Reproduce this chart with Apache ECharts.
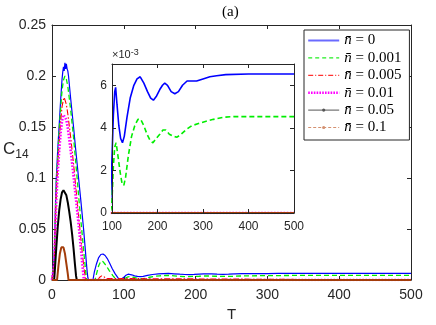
<!DOCTYPE html>
<html><head><meta charset="utf-8">
<script src="https://cdn.jsdelivr.net/npm/echarts@6/dist/echarts.min.js"></script>
<style>html,body{margin:0;padding:0;background:#fff}#c{width:436px;height:325px}</style>
</head><body><div id="c"></div>
<script>
// ---- data (T, C14) ----
const seriesNames = ['n̄ = 0', 'n̄ = 0.001', 'n̄ = 0.005', 'n̄ = 0.01', 'n̄ = 0.05', 'n̄ = 0.1'];
const xTicks = [0, 100, 200, 300, 400, 500];
const yTicks = [0, 0.05, 0.1, 0.15, 0.2, 0.25];
const insetYTicks = [0, 2, 4, 6];

const nbar0 = [[0,0],[2,0],[3,0.022],[4,0.048],[5,0.078],[6,0.1],[8,0.128],[10,0.152],[12,0.176],[14,0.197],[15,0.204],[16,0.209],[17,0.205],[18,0.213],[19,0.207],[20,0.212],[21,0.207],[22,0.205],[23,0.2],[26,0.178],[30,0.15],[33,0.128],[37,0.1],[40,0.079],[44,0.05],[46,0.033],[48,0.016],[49,0.008],[50,0.002],[51,0],[57,0],[59,0.008],[62,0.016],[65,0.022],[68,0.025],[71,0.0255],[74,0.024],[77,0.021],[80,0.017],[84,0.011],[88,0.006],[92,0.002],[95,0],[97,0.0006],[100,0.0026],[103,0.0046],[106,0.0057],[108,0.0059],[111,0.0051],[115,0.0041],[119,0.0035],[123,0.0033],[127,0.0036],[133,0.0045],[140,0.0054],[148,0.006],[155,0.0063],[162,0.0064],[170,0.0061],[178,0.0057],[185,0.0054],[191,0.0053],[198,0.0055],[205,0.0058],[211,0.006],[216,0.0061],[222,0.006],[230,0.0057],[238,0.0056],[246,0.0057],[255,0.006],[265,0.0062],[275,0.0062],[286,0.0062],[300,0.0063],[315,0.0064],[330,0.00645],[350,0.0065],[400,0.00653],[450,0.00653],[500,0.00653]];
const nbar001 = [[0,0],[2,0],[3,0.018],[4,0.042],[5,0.07],[6,0.094],[8,0.122],[10,0.146],[12,0.168],[14,0.186],[16,0.196],[18,0.2],[19,0.2],[20,0.197],[22,0.19],[26,0.167],[30,0.14],[34,0.108],[38,0.075],[42,0.045],[45,0.022],[47,0.008],[48,0],[60,0],[62,0.006],[65,0.014],[68,0.0185],[71,0.018],[75,0.0145],[80,0.009],[85,0.004],[89,0.0008],[91,0],[96,0],[98,0.0002],[100,0.0006],[103,0.0022],[106,0.0031],[109,0.0033],[113,0.0027],[118,0.0019],[122,0.0014],[126,0.0013],[130,0.0017],[136,0.0027],[143,0.0036],[150,0.0041],[157,0.0044],[163,0.0044],[170,0.0041],[177,0.0037],[184,0.0034],[190,0.0033],[197,0.0035],[205,0.0037],[212,0.0039],[218,0.0039],[226,0.0037],[235,0.0036],[243,0.00356],[252,0.0037],[262,0.0039],[275,0.0041],[290,0.0042],[305,0.0043],[323,0.0044],[345,0.0045],[367,0.00453],[400,0.00453],[500,0.00453]];
const nbar005 = [[0,0],[2,0],[3,0.015],[4,0.037],[5,0.062],[6,0.085],[8,0.112],[10,0.135],[12,0.155],[14,0.17],[16,0.177],[17,0.179],[18,0.178],[20,0.172],[22,0.163],[26,0.14],[30,0.114],[34,0.085],[38,0.056],[42,0.028],[44,0.015],[46,0.004],[47,0],[64,0],[66,0.0025],[69,0.004],[72,0.0035],[75,0.0015],[77,0],[500,0]];
const nbar01 = [[0,0],[1.5,0],[3,0.015],[4,0.035],[5,0.058],[6,0.078],[8,0.105],[10,0.126],[12,0.144],[14,0.156],[16,0.162],[17,0.163],[18,0.162],[20,0.157],[22,0.149],[26,0.127],[30,0.102],[34,0.075],[38,0.048],[41,0.025],[43,0.01],[44.5,0],[500,0]];
const nbar05 = [[0,0],[3,0],[4,0.01],[6,0.032],[8,0.052],[10,0.068],[12,0.079],[14,0.086],[16,0.088],[17,0.088],[18,0.087],[20,0.083],[22,0.076],[24,0.067],[26,0.057],[28,0.045],[30,0.031],[32,0.015],[33.5,0.004],[34.5,0],[500,0]];
const nbar1 = [[0,0],[7,0],[9,0.014],[11,0.026],[13,0.032],[14.5,0.0335],[16,0.032],[18,0.026],[20,0.016],[22,0.006],[23,0],[500,0]];

const allData = [nbar0, nbar001, nbar005, nbar01, nbar05, nbar1];
const colors = ['#0000ff', '#00ee00', '#ff0000', '#ff00ff', '#000000', '#a33d0a'];
const lineTypes = ['solid', [5,3], [6,2,1.5,2], [1.6,1.6], 'solid', 'solid'];
const lineWidths = [1.2, 1.3, 1.1, 2.6, 2, 2];
const legendTypes = ['solid', [4,3], [5,2,1,2], [1.6,1.2], 'solid', [3,2]];
const legendWidths = [2, 1.2, 1.2, 2.4, 1, 1];
const legendColors = ['#6a6aff', '#22ee22', '#ff3030', '#ff00ff', '#555555', '#d49070'];

const axCol = '#262626';
const font = 'Liberation Sans, Arial, sans-serif';

function mkX(grid, pos, min, show, fs) {
  return {type:'value', gridIndex:grid, position:pos, min:min, max:500, interval:100,
    axisLine:{show:true, onZero:false, lineStyle:{color:axCol, width:1}},
    axisTick:{show:true, inside:true, length:4, lineStyle:{color:axCol}},
    axisLabel:{show:show, color:axCol, fontSize:fs, fontFamily:font, margin:8},
    splitLine:{show:false}};
}
function mkY(grid, pos, max, interval, show, fs, fmt, margin, showMax) {
  return {type:'value', gridIndex:grid, position:pos, min:0, max:max, interval:interval,
    axisLine:{show:true, onZero:false, lineStyle:{color:axCol, width:1}},
    axisTick:{show:true, inside:true, length:4, lineStyle:{color:axCol}},
    axisLabel:{show:show, color:axCol, fontSize:fs, fontFamily:font, margin:margin, formatter:fmt, showMaxLabel:showMax},
    splitLine:{show:false}};
}

const series = [];
allData.forEach((d, i) => {
  const base = {type:'line', data:d, symbol:(i>=4?'circle':'none'), symbolSize:3, showSymbol:false,
    animation:false, lineStyle:{color:colors[i], type:lineTypes[i], width:lineWidths[i]},
    itemStyle:{color:colors[i]}, z:2+i, clip:true};
  series.push(Object.assign({}, base, {name:seriesNames[i], xAxisIndex:0, yAxisIndex:0}));
});
allData.forEach((d, i) => {
  series.push({type:'line', name:'_inset'+i, data:d, symbol:'none', showSymbol:false, animation:false,
    xAxisIndex:2, yAxisIndex:2, clip:true, z:10+i,
    lineStyle:{color:colors[i], type:lineTypes[i], width:(i===0||i===1)?1.6:lineWidths[i]}});
});

const option = {
  animation:false,
  backgroundColor:'#fff',
  grid:[
    {left:52, right:25, top:25, bottom:45, show:false},
    {left:112, right:142, top:64, bottom:112, show:true, backgroundColor:'#fff', borderWidth:0, z:5}
  ],
  xAxis:[
    mkX(0,'bottom',0,true,14), mkX(0,'top',0,false,14),
    Object.assign(mkX(1,'bottom',100,true,12), {z:20}), Object.assign(mkX(1,'top',100,false,12), {z:20})
  ],
  yAxis:[
    mkY(0,'left',0.25,0.05,true,14,null,6,true), mkY(0,'right',0.25,0.05,false,14,null,6,true),
    Object.assign(mkY(1,'left',0.007,0.002,true,12,v=>String(Math.round(v*1000)),5,false), {z:20}),
    Object.assign(mkY(1,'right',0.007,0.002,false,12,null,5,false), {z:20})
  ],
  legend:{
    orient:'vertical', left:304, top:30, z:30,
    backgroundColor:'#fff', borderColor:axCol, borderWidth:1, borderRadius:0,
    padding:[3,8,5,3], itemWidth:31, itemHeight:4, itemGap:2.4,
    data: seriesNames.map((n,i)=>({name:n,
      lineStyle:{color:legendColors[i], type:legendTypes[i], width:legendWidths[i]},
      itemStyle:{color:legendColors[i], opacity:(i>=4?1:0)}})),
    formatter: name => '{i|n̄}{r|' + name.slice(2) + '}',
    textStyle:{color:'#000', rich:{
      i:{fontFamily:'Liberation Serif', fontStyle:'italic', fontSize:15, lineHeight:15},
      r:{fontFamily:'Liberation Serif', fontSize:15, lineHeight:15}
    }}
  },
  graphic:[
    {type:'text', left:222, top:5, style:{text:'(a)', font:'15px "Liberation Serif", serif', fill:'#000'}},
    {type:'text', left:227, top:307, style:{text:'T', font:'15px "Liberation Sans", Arial, sans-serif', fill:axCol}},
    {type:'text', left:3, top:141, style:{text:'{c|C}{s|14}', rich:{
      c:{fontSize:17, fontFamily:'Liberation Sans', fill:axCol},
      s:{fontSize:12, fontFamily:'Liberation Sans', fill:axCol, padding:[10,0,0,0]}}}},
    {type:'text', left:112, top:48, z:40, style:{text:'{a|×10}{b|-3}', rich:{
      a:{fontSize:11, fontFamily:'Liberation Sans', fill:axCol, padding:[5,0,0,0]},
      b:{fontSize:9, fontFamily:'Liberation Sans', fill:axCol}}}}
  ],
  series: series
};
const chart = echarts.init(document.getElementById('c'), null, {renderer:'canvas'});
chart.setOption(option);
</script></body></html>
